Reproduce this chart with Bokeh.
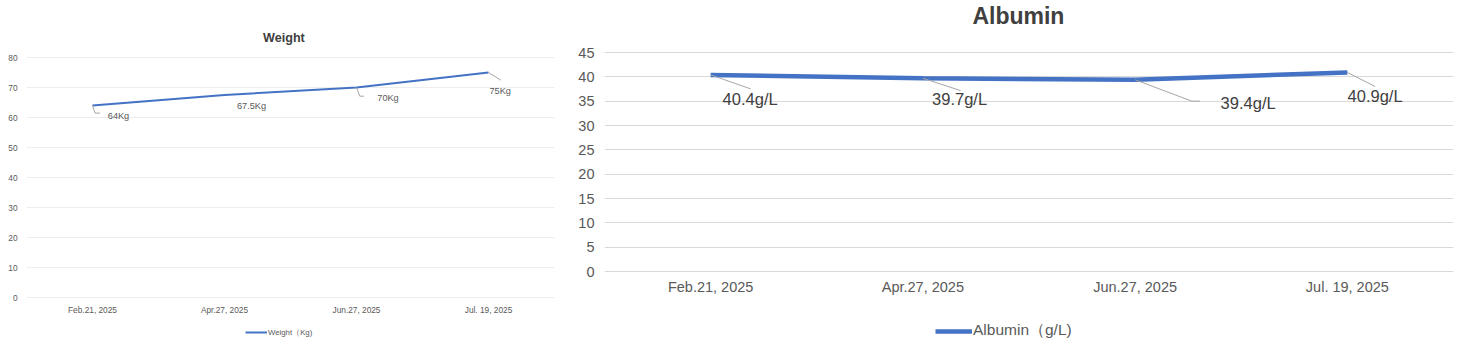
from bokeh.plotting import figure
from bokeh.layouts import row
from bokeh.models import Range1d, FixedTicker, Label, Legend, LegendItem, ColumnDataSource
from bokeh.core.properties import value
from bokeh.embed import file_html
from bokeh.resources import INLINE

# ---------------- data ----------------
dates = ["Feb.21, 2025", "Apr.27, 2025", "Jun.27, 2025", "Jul. 19, 2025"]
weight = [64, 67.5, 70, 75]
weight_labels = ["64Kg", "67.5Kg", "70Kg", "75Kg"]
albumin = [40.4, 39.7, 39.4, 40.9]
albumin_labels = ["40.4g/L", "39.7g/L", "39.4g/L", "40.9g/L"]
weight_ticks = list(range(0, 81, 10))
albumin_ticks = list(range(0, 46, 5))

FONT = "Liberation Sans"
BLUE = "#4472C4"
xs = [i + 0.5 for i in range(len(dates))]

# label placement (pixel offsets from each point: text dx, dy; leader polyline)
w_text_off = [(26, 10), (27, 10.7), (31.5, 10.3), (11.7, 18.7)]
w_leader = [[(0, 0), (2.6, 7.6), (7.6, 7.6)], None,
            [(0, 0), (3.3, 8.7), (7.3, 8.7)], [(0, 0), (12.4, 7.7)]]
a_text_off = [(39.5, 24.6), (36.7, 20.6), (113, 23.4), (27.7, 23.3)]
a_leader = [[(0, 0), (40, 14)], [(0, 0), (37.7, 12.3)],
            [(0, 0), (56.7, 21.4), (65, 21.4)], [(0, 0), (27.7, 14)]]


def make_chart(W, H, bl, br, zero_px, top_px, ymax, yticks, vals, labels, text_off,
               leaders, line_w, tick_fs, data_fs, label_color, grid_color, title,
               title_fs, title_y_px, leg_label, leg_glyph_w, leg_fs, leg_x, leg_y,
               standoffs):
    fw = W - bl - br
    pxx = fw / len(dates)
    pxy = (zero_px - top_px) / ymax
    y0 = -(H - zero_px) / pxy
    y1 = zero_px / pxy
    p = figure(width=W, height=H, output_backend="svg", toolbar_location=None,
               x_range=Range1d(0, len(dates)), y_range=Range1d(y0, y1),
               min_border_left=bl, min_border_right=br, min_border_top=0,
               min_border_bottom=0)
    p.outline_line_color = None
    p.background_fill_color = "white"
    p.border_fill_color = "white"

    p.xgrid.visible = False
    p.ygrid.grid_line_color = grid_color
    p.ygrid.grid_line_width = 1
    p.yaxis.ticker = FixedTicker(ticks=yticks)
    p.xaxis.ticker = FixedTicker(ticks=xs)
    p.xaxis.major_label_overrides = {x: d for x, d in zip(xs, dates)}
    p.xaxis.fixed_location = 0
    for ax in (p.xaxis[0], p.yaxis[0]):
        ax.axis_line_color = None
        ax.major_tick_line_color = None
        ax.minor_tick_line_color = None
        ax.major_tick_out = 0
        ax.major_tick_in = 0
        ax.minor_tick_out = 0
        ax.major_label_text_font = FONT
        ax.major_label_text_font_size = tick_fs
        ax.major_label_text_color = "#595959"
    p.yaxis.major_label_standoff = standoffs[0]
    p.xaxis.major_label_standoff = standoffs[1]

    src = ColumnDataSource(dict(x=xs, y=vals))
    r = p.line("x", "y", source=src, line_color=BLUE, line_width=line_w)

    # leader lines
    lx, ly = [], []
    for x0, v, ld in zip(xs, vals, leaders):
        if ld is None:
            continue
        lx.append([x0 + dx / pxx for dx, dy in ld])
        ly.append([v - dy / pxy for dx, dy in ld])
    p.multi_line(lx, ly, line_color="#A6A6A6", line_width=1)

    # data labels
    for x0, v, t, (dx, dy) in zip(xs, vals, labels, text_off):
        p.text(x=[x0], y=[v], text=[t], x_offset=dx, y_offset=dy,
               text_align="center", text_baseline="middle",
               text_font=value(FONT), text_font_size=data_fs,
               text_color=label_color)

    # title
    p.add_layout(Label(x=1.95, y=(zero_px - title_y_px) / pxy,
                       text=title, text_align="center", text_baseline="middle",
                       text_font=FONT, text_font_size=title_fs,
                       text_font_style="bold", text_color="#404040"))

    legend = Legend(items=[LegendItem(label=leg_label, renderers=[r])],
                    location=(leg_x, leg_y), orientation="horizontal",
                    glyph_width=leg_glyph_w, glyph_height=20, label_height=20,
                    label_standoff=1, padding=0, margin=0, spacing=0,
                    border_line_color=None, background_fill_alpha=0,
                    label_text_font=FONT, label_text_font_size=leg_fs,
                    label_text_color="#595959")
    p.add_layout(legend, "center")
    return p


p1 = make_chart(560, 342, 26, 6, 297, 57, 80, weight_ticks, weight, weight_labels,
                w_text_off, w_leader, 2, "8.3px", "9.2px", "#595959", "#EDEDED",
                "Weight", "12.6px", 37, "Weight（Kg)", 22, "7.8px", 219, 0, (9, 7))
p2 = make_chart(898, 342, 44, 5, 271, 52, 45, albumin_ticks, albumin, albumin_labels,
                a_text_off, a_leader, 4.5, "14.5px", "16.5px", "#404040", "#D9D9D9",
                "Albumin", "23px", 15, "Albumin（g/L)", 37, "15.5px", 331, 1, (10, 7))

layout = row(p1, p2, spacing=0)
open("out.html", "w").write(file_html(layout, INLINE))
